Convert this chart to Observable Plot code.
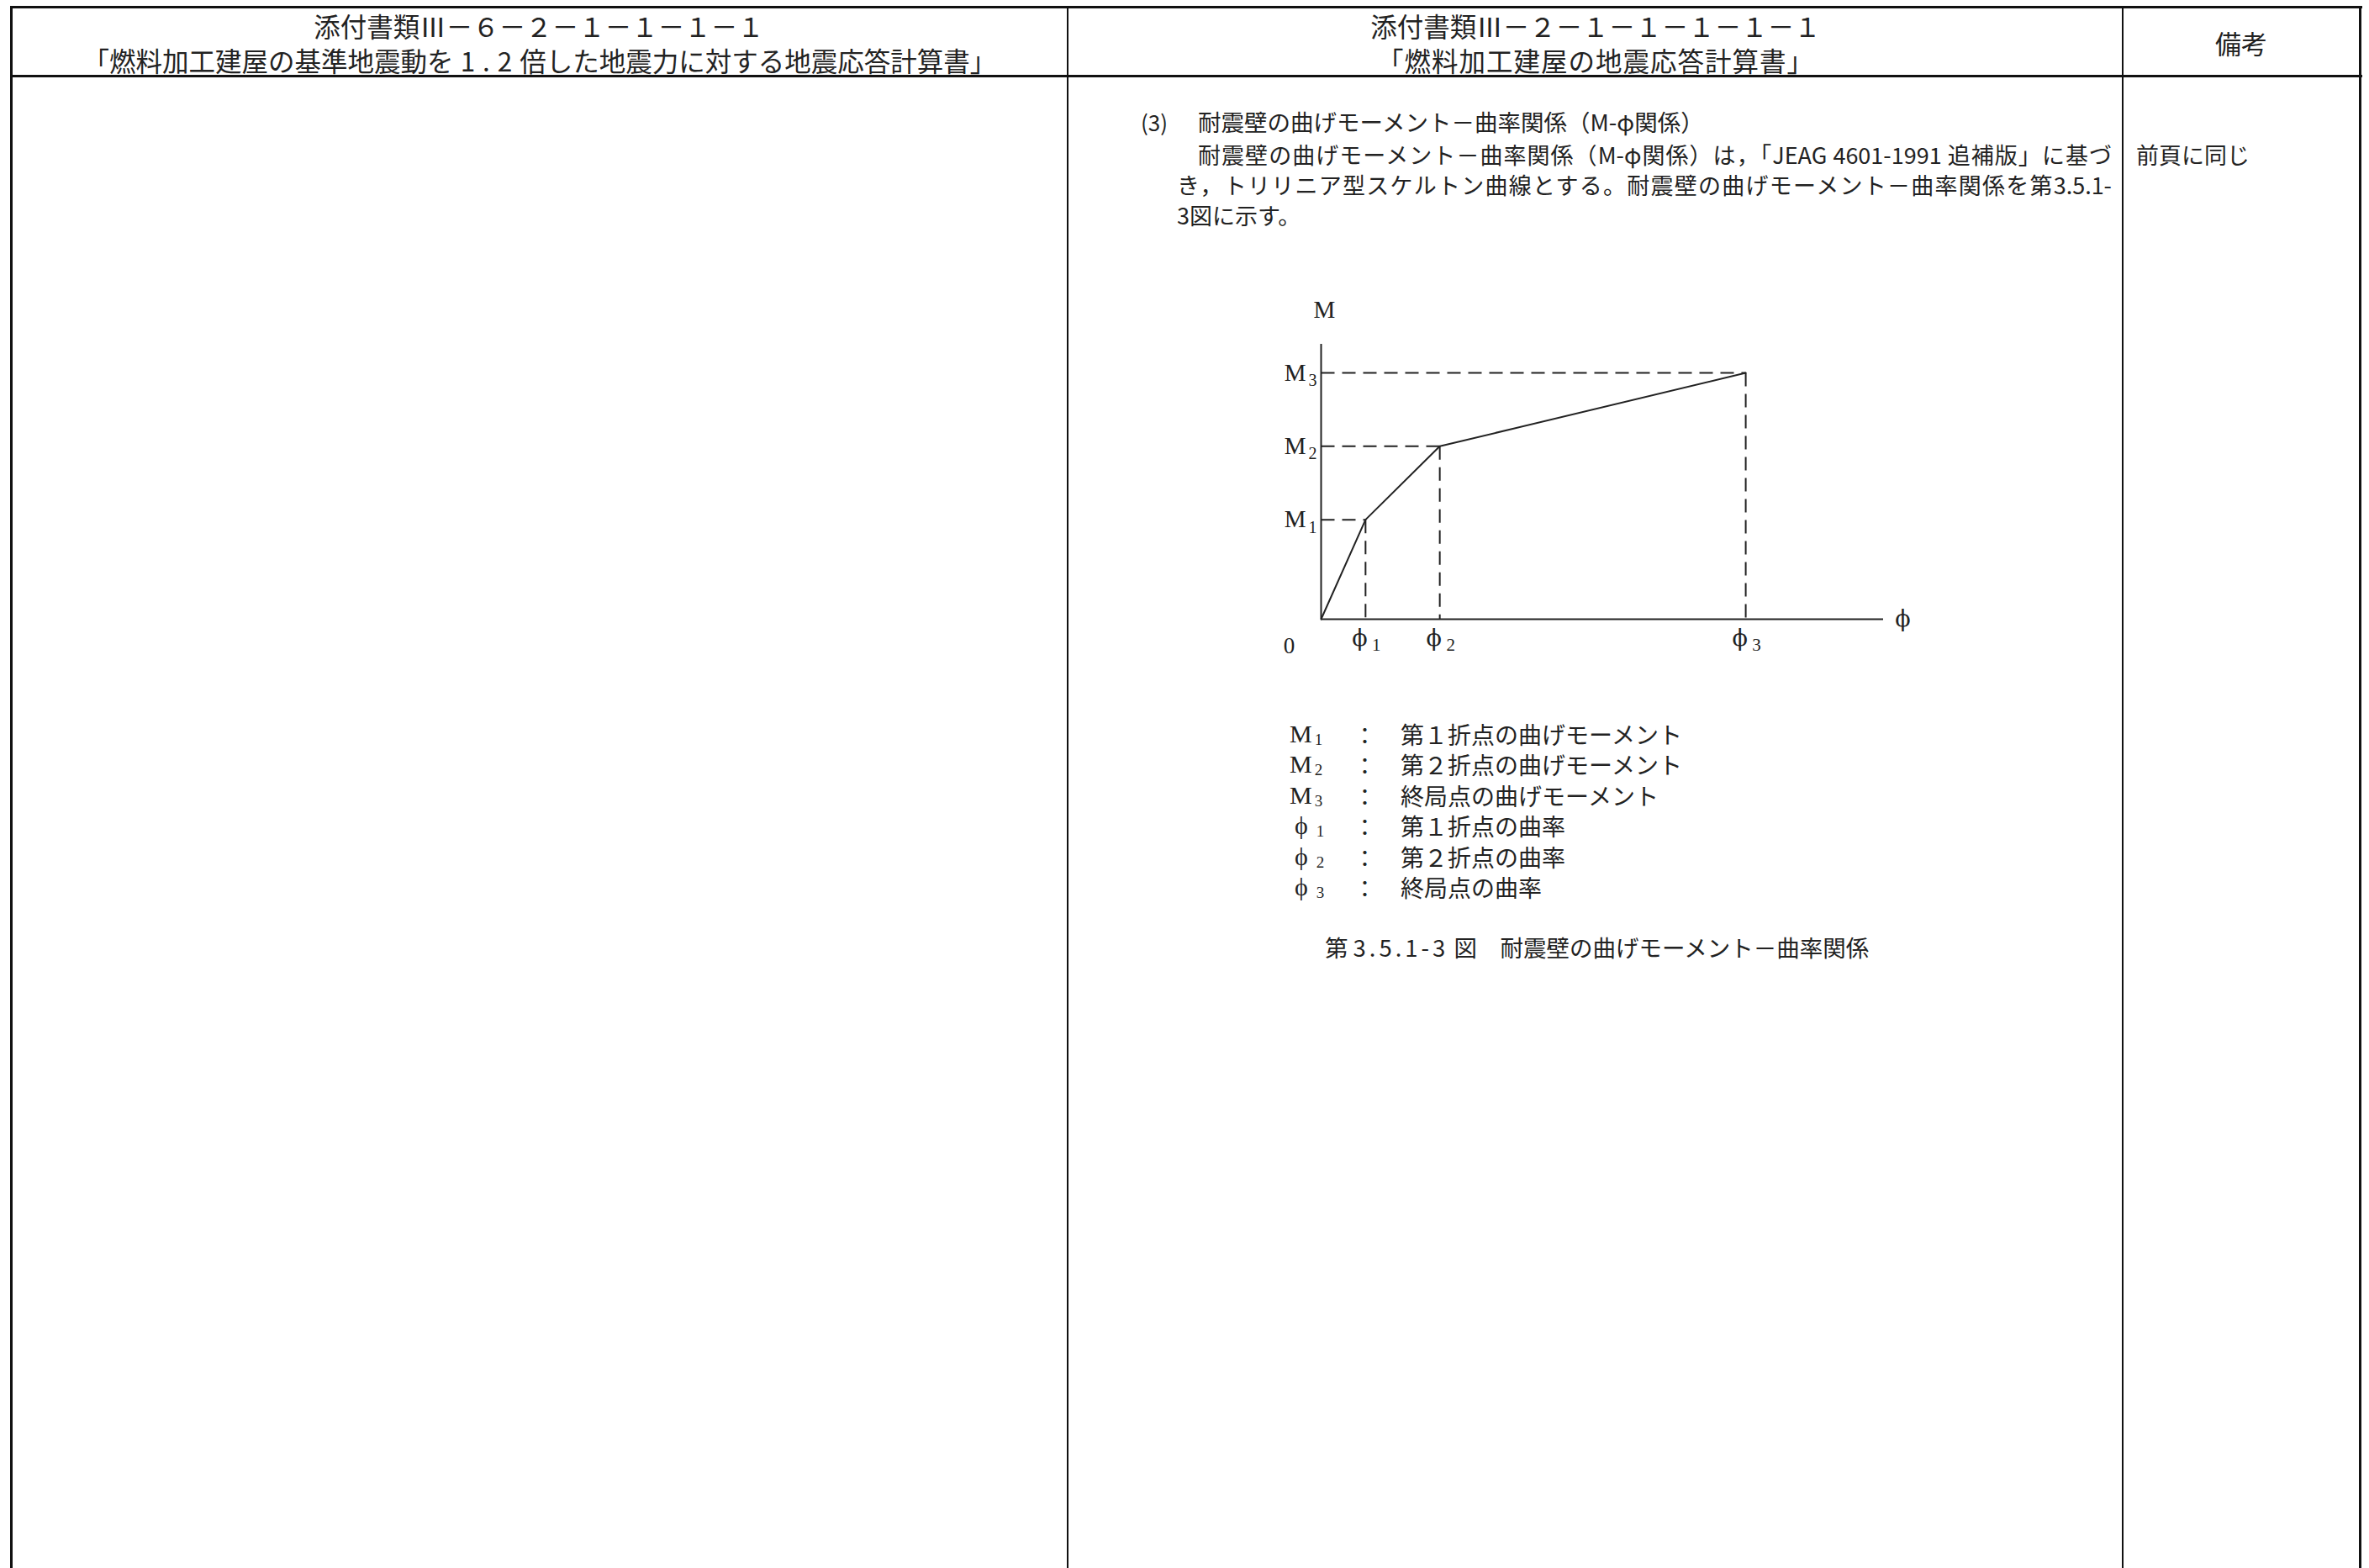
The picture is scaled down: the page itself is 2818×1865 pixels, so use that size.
<!DOCTYPE html>
<html><head><meta charset="utf-8">
<script src="https://cdn.jsdelivr.net/npm/d3@7"></script>
<script src="https://cdn.jsdelivr.net/npm/@observablehq/plot@0.6"></script>
<style>
html,body{margin:0;padding:0;background:#fff;}
#page{position:relative;width:2818px;height:1865px;overflow:hidden;background:#fff;font-family:"Noto Sans CJK JP",sans-serif;color:#222;}
.ln{position:absolute;background:#111;}
.t{position:absolute;white-space:nowrap;line-height:1;}
.c{transform:translate(-50%,-50%);}
.m{transform:translateY(-50%);}
.serif{font-family:"Liberation Serif","DejaVu Serif",serif;}
#chart{position:absolute;left:1480px;top:330px;}
</style></head>
<body><div id="page"><div id="chart"></div></div>
<script>
// ---------- data ----------
const headerLeft = ["添付書類Ⅲ－６－２－１－１－１－１", ["「燃料加工建屋の基準地震動を", "1.2", "倍した地震力に対する地震応答計算書」"]];
const headerMid = ["添付書類Ⅲ－２－１－１－１－１－１", "「燃料加工建屋の地震応答計算書」"];
const headerRight = "備考";
const sectionNo = "(3)";
const sectionTitle = "耐震壁の曲げモーメント－曲率関係（M-φ関係）";
const bodyLines = [
  "耐震壁の曲げモーメント－曲率関係（M-φ関係）は，「JEAG 4601-1991 追補版」に基づ",
  "き，トリリニア型スケルトン曲線とする。耐震壁の曲げモーメント－曲率関係を第3.5.1-",
  "3図に示す。"
];
const remark = "前頁に同じ";

// skeleton curve (schematic; axis ends = 100)
const pointIds = ["0", "1", "2", "3"];
const phiValues = [0, 7.9, 21.1, 75.5];
const momentValues = [0, 36.2, 62.9, 89.6];
const axisMax = [100, 100];
const axisNames = ["ϕ", "M"];
const originLabel = "0";

const legendSymbols = ["M", "M", "M", "ϕ", "ϕ", "ϕ"];
const legendSubs = ["1", "2", "3", "1", "2", "3"];
const legendTexts = ["第１折点の曲げモーメント", "第２折点の曲げモーメント", "終局点の曲げモーメント", "第１折点の曲率", "第２折点の曲率", "終局点の曲率"];
const captionText = ["第", "3.5.1-3", "図　耐震壁の曲げモーメント－曲率関係"];

// ---------- page frame ----------
const page = document.getElementById("page");
function line(l, t, w, h) { const d = document.createElement("div"); d.className = "ln"; Object.assign(d.style, {left: l + "px", top: t + "px", width: w + "px", height: h + "px"}); page.appendChild(d); }
line(12, 7, 2798, 3);      // top
line(12, 7, 3, 1860);      // left
line(2806, 7, 3, 1860);    // right
line(12, 89, 2798, 3);     // header bottom
line(1269, 7, 2, 1860);    // divider 1
line(2524, 7, 2, 1860);    // divider 2

function text(str, x, y, cls, size, extra) {
  const d = document.createElement("div");
  d.className = "t " + (cls || "");
  d.style.left = x + "px"; d.style.top = y + "px"; d.style.fontSize = size + "px";
  if (extra) Object.assign(d.style, extra);
  d.textContent = str; page.appendChild(d); return d;
}
// header
text(headerLeft[0], 641, 31, "c", 31.5);
const h2 = text("", 642, 72, "c", 31.5);
h2.innerHTML = headerLeft[1][0] + '<span style="letter-spacing:9px;margin-left:8px">' + headerLeft[1][1] + '</span>' + headerLeft[1][2];
text(headerMid[0], 1898, 31, "c", 31.5);
text(headerMid[1], 1898, 72, "c", 31.5, {letterSpacing: "1px"});
text(headerRight, 2666, 50, "c", 31);

// body text
text(sectionNo, 1357, 145, "m", 26);
text(sectionTitle, 1425, 145, "m", 27.5);
text(bodyLines[0], 1425, 183, "m", 27, {width: "1087px", textAlign: "justify", textAlignLast: "justify", whiteSpace: "normal"});
text(bodyLines[1], 1400, 219, "m", 27, {width: "1112px", textAlign: "justify", textAlignLast: "justify", whiteSpace: "normal"});
text(bodyLines[2], 1400, 255, "m", 27);
text(remark, 2541, 183, "m", 27);

// legend
legendTexts.forEach((s, i) => {
  const y = 873 + i * 36.4;
  const isM = legendSymbols[i] === "M";
  const sym = text("", isM ? 1534 : 1540, y, "m serif", 30);
  sym.innerHTML = legendSymbols[i] + '<span style="font-size:19px;position:relative;top:3px;margin-left:' + (isM ? 3 : 10) + 'px">' + legendSubs[i] + '</span>';
  text("：", 1610, y, "m", 27);
  text(s, 1666, y, "m", 28);
});

// caption
const cap = text("", 1576, 1127, "m", 27.5);
cap.innerHTML = captionText[0] + '<span style="letter-spacing:4px;margin:0 6px">' + captionText[1] + '</span>' + captionText[2];

// ---------- chart ----------
const pts = pointIds.map((id, i) => ({id, phi: phiValues[i], m: momentValues[i]}));
const brk = pts.slice(1);
const ink = "#222";
const dash = {stroke: ink, strokeWidth: 2, strokeDasharray: "16,9"};
const serif = "Liberation Serif";
const chart = Plot.plot({
  width: 820, height: 480,
  marginLeft: 91, marginRight: 60, marginTop: 79, marginBottom: 74,
  x: {domain: [0, axisMax[0]], axis: null},
  y: {domain: [0, axisMax[1]], axis: null},
  style: {background: "transparent", overflow: "visible", color: ink},
  marks: [
    Plot.link(brk, {x1: 0, y1: "m", x2: "phi", y2: "m", ...dash}),
    Plot.link(brk, {x1: "phi", y1: "m", x2: "phi", y2: 0, ...dash}),
    Plot.ruleY([0], {x1: 0, x2: axisMax[0], stroke: ink, strokeWidth: 2}),
    Plot.ruleX([0], {y1: 0, y2: axisMax[1], stroke: ink, strokeWidth: 2}),
    Plot.line(pts, {x: "phi", y: "m", stroke: ink, strokeWidth: 2}),
    // M_i labels
    Plot.text(brk, {x: 0, y: "m", text: () => axisNames[1], textAnchor: "end", dx: -18, fontSize: 29, fontFamily: serif, fill: ink}),
    Plot.text(brk, {x: 0, y: "m", text: "id", textAnchor: "end", dx: -5, dy: 9, fontSize: 20, fontFamily: serif, fill: ink}),
    // phi_i labels
    Plot.text(brk, {x: "phi", y: 0, text: () => axisNames[0], dx: -7, dy: 23, fontSize: 27, fontFamily: "DejaVu Serif", fill: ink}),
    Plot.text(brk, {x: "phi", y: 0, text: "id", dx: 13, dy: 31, fontSize: 21, fontFamily: serif, fill: ink}),
    // axis names and origin
    Plot.text([axisNames[1]], {x: 0, y: axisMax[1], text: d => d, dx: 4, dy: -41, fontSize: 29, fontFamily: serif, fill: ink}),
    Plot.text([axisNames[0]], {x: axisMax[0], y: 0, text: d => d, dx: 23, dy: 0, fontSize: 27, fontFamily: "DejaVu Serif", fill: ink}),
    Plot.text([originLabel], {x: 0, y: 0, text: d => d, dx: -38, dy: 32, fontSize: 27, fontFamily: serif, fill: ink})
  ]
});
document.getElementById("chart").appendChild(chart);
</script>
</body></html>
